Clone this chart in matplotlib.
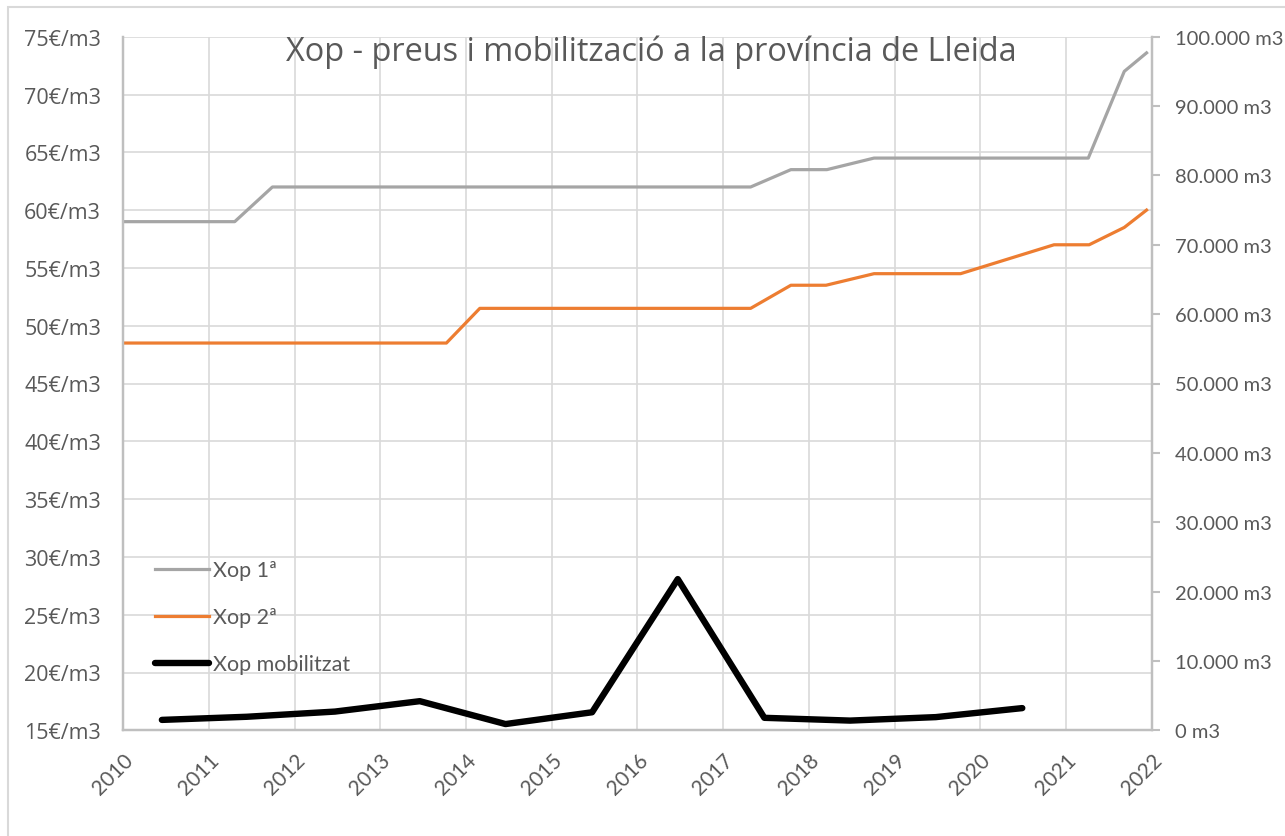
import matplotlib.pyplot as plt
from matplotlib.ticker import FuncFormatter, MultipleLocator
from matplotlib.patches import Rectangle

# preus (€/m3) - dates irregulars en anys decimals
x_xop1 = [2010, 2011.30, 2011.74, 2017.32, 2017.79, 2018.21, 2018.76, 2021.26, 2021.68, 2021.94]
y_xop1 = [59, 59, 62, 62, 63.5, 63.5, 64.5, 64.5, 72, 73.6]

x_xop2 = [2010, 2013.77, 2014.16, 2017.32, 2017.79, 2018.20, 2018.76, 2019.77, 2020.86, 2021.27, 2021.68, 2021.94]
y_xop2 = [48.5, 48.5, 51.5, 51.5, 53.5, 53.5, 54.5, 54.5, 57, 57, 58.5, 60]

# volum mobilitzat (m3)
x_mob = [2010.45, 2011.44, 2012.47, 2013.46, 2014.46, 2015.47, 2016.47, 2017.48, 2018.48, 2019.48, 2020.49]
y_mob = [1500, 1950, 2700, 4200, 900, 2600, 21800, 1800, 1400, 1900, 3200]

years = list(range(2010, 2023))

txt = "#595959"
grid = "#d9d9d9"
axcol = "#bfbfbf"

fig = plt.figure(figsize=(12.85, 8.37), dpi=100)
fig.patches.append(Rectangle((8 / 1285, -0.1), 1.2, 1 - 8 / 837 + 0.1, transform=fig.transFigure,
                             fill=False, edgecolor=grid, linewidth=1.5))

ax = fig.add_axes([123.3 / 1285, 1 - 731.3 / 837, (1151.7 - 123.3) / 1285, (731.3 - 37.7) / 837])
ax2 = ax.twinx()

ax.plot(x_xop1, y_xop1, color="#a5a5a5", lw=2.3, label="Xop 1ª")
ax.plot(x_xop2, y_xop2, color="#ed7d31", lw=2.3, label="Xop 2ª")
ax2.plot(x_mob, y_mob, color="black", lw=4.6, solid_capstyle="round", solid_joinstyle="round",
         label="Xop mobilitzat")

ax.set_xlim(2010, 2022)
ax.set_ylim(15, 75)
ax2.set_ylim(0, 100000)
ax.set_xticks(years)
ax.yaxis.set_major_locator(MultipleLocator(5))
ax2.yaxis.set_major_locator(MultipleLocator(10000))
ax.yaxis.set_major_formatter(FuncFormatter(lambda v, p: f"{int(v)}€/m3"))
ax2.yaxis.set_major_formatter(FuncFormatter(lambda v, p: f"{int(v):,}".replace(",", ".") + " m3"))

ax.grid(True, color=grid, lw=1.2)
ax.set_axisbelow(True)
for a in (ax, ax2):
    a.spines["top"].set_visible(False)
    for s in ("left", "right", "bottom"):
        a.spines[s].set_color(axcol)
        a.spines[s].set_linewidth(1.6)

ax.tick_params(axis="y", length=0, pad=16, labelcolor=txt)
ax.tick_params(axis="x", length=0, pad=14, labelcolor=txt)
ax2.tick_params(axis="y", length=6, width=1.5, color=axcol, pad=11, labelcolor=txt)
for lab in ax.get_yticklabels():
    lab.set_fontfamily("Open Sans")
    lab.set_fontsize(15.5)
for lab in ax.get_xticklabels():
    lab.set_fontfamily("Lato")
    lab.set_fontsize(15)
    lab.set_rotation(45)
    lab.set_ha("right")
    lab.set_rotation_mode("anchor")
for lab in ax2.get_yticklabels():
    lab.set_fontfamily("Lato")
    lab.set_fontsize(14.5)

h1, l1 = ax.get_legend_handles_labels()
h2, l2 = ax2.get_legend_handles_labels()
leg = ax2.legend(h1 + h2, l1 + l2, loc="upper left", bbox_to_anchor=(0.031, 0.245),
                 frameon=False, borderaxespad=0, borderpad=0, handlelength=2.5,
                 handletextpad=0.2, labelspacing=1.25, prop={"family": "Lato", "size": 15.5})
for t in leg.get_texts():
    t.set_color(txt)

fig.text(651 / 1285, 1 - 52 / 837, "Xop - preus i mobilització a la província de Lleida",
         ha="center", va="center", fontsize=23.4, color=txt, family="Open Sans")

fig.savefig("out.png", dpi=100)
